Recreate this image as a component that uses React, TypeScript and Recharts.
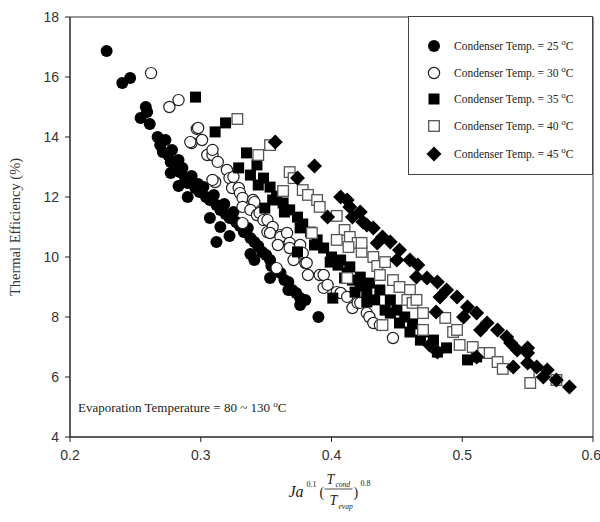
import React from 'react';
import { ScatterChart, Scatter, XAxis, YAxis, ReferenceArea, Label, Legend } from 'recharts';

const xTicks = [0.2, 0.3, 0.4, 0.5, 0.6];
const yTicks = [4, 6, 8, 10, 12, 14, 16, 18];
const condenserTemps = [25, 30, 35, 40, 45];

// [x, efficiency %]
const temp25: [number, number][] = [
  [0.228, 16.87], [0.240, 15.8], [0.246, 15.97], [0.258, 15.0], [0.254, 14.63], [0.261, 14.43], [0.259, 14.83],
  [0.267, 14.0], [0.269, 13.73], [0.273, 13.9], [0.271, 13.5], [0.275, 13.4], [0.278, 13.57], [0.277, 13.17],
  [0.280, 13.07], [0.283, 13.23], [0.284, 12.83], [0.286, 12.97], [0.288, 12.63], [0.290, 12.47], [0.293, 12.7],
  [0.296, 12.3], [0.298, 12.43], [0.299, 12.17], [0.302, 12.33], [0.304, 12.0], [0.307, 11.9], [0.310, 12.07],
  [0.312, 11.73], [0.315, 11.57], [0.318, 11.77], [0.319, 11.43], [0.322, 11.3], [0.325, 11.5], [0.327, 11.17],
  [0.330, 11.03], [0.333, 10.83], [0.336, 10.97], [0.338, 10.63], [0.341, 10.5], [0.344, 10.37], [0.347, 10.17],
  [0.350, 10.07], [0.353, 9.9], [0.354, 9.7], [0.358, 9.57], [0.361, 9.47], [0.364, 9.23], [0.367, 9.17],
  [0.370, 8.9], [0.373, 8.8], [0.376, 8.63], [0.380, 8.57], [0.312, 10.5], [0.390, 8.0],
  [0.283, 12.37], [0.290, 12.0], [0.307, 11.3], [0.322, 10.7], [0.338, 10.1], [0.353, 9.3], [0.367, 8.9],
  [0.376, 8.4], [0.341, 9.9], [0.315, 11.0], [0.296, 12.3], [0.283, 12.9], [0.277, 12.8],
];

const temp30: [number, number][] = [
  [0.262, 16.13], [0.276, 15.0], [0.283, 15.23], [0.297, 14.27], [0.293, 13.8], [0.301, 13.9], [0.298, 14.3],
  [0.305, 13.4], [0.309, 13.4], [0.313, 13.17], [0.309, 13.57], [0.311, 12.5], [0.320, 12.9], [0.322, 12.63],
  [0.325, 12.67], [0.324, 12.3], [0.329, 12.3], [0.330, 12.13], [0.332, 11.97], [0.332, 11.67], [0.340, 11.9],
  [0.341, 11.83], [0.338, 11.57], [0.343, 11.4], [0.345, 11.47], [0.332, 11.13], [0.348, 11.23], [0.351, 11.23],
  [0.351, 10.83], [0.355, 11.0], [0.353, 10.8], [0.361, 10.73], [0.361, 10.67], [0.359, 10.4], [0.366, 10.8],
  [0.368, 10.47], [0.368, 10.3], [0.376, 10.4], [0.371, 9.9], [0.378, 10.13], [0.380, 9.8], [0.381, 9.8],
  [0.382, 9.4], [0.391, 9.4], [0.394, 8.97], [0.394, 9.4], [0.397, 9.07], [0.404, 8.83], [0.407, 8.8],
  [0.412, 8.67], [0.416, 8.3], [0.420, 8.47], [0.422, 8.47], [0.427, 8.13], [0.429, 8.0], [0.432, 7.8],
  [0.437, 7.73], [0.447, 7.3], [0.358, 9.63], [0.309, 12.57], [0.292, 13.83],
];

const temp35: [number, number][] = [
  [0.296, 15.33], [0.311, 14.17], [0.319, 14.47], [0.329, 12.97], [0.335, 13.47], [0.343, 13.07], [0.348, 12.63],
  [0.353, 12.33], [0.358, 12.03], [0.349, 11.63], [0.363, 11.8], [0.368, 11.57], [0.374, 11.33], [0.378, 11.1],
  [0.384, 10.83], [0.389, 10.57], [0.394, 10.3], [0.374, 10.17], [0.400, 10.0], [0.405, 9.73], [0.412, 9.47],
  [0.416, 9.23], [0.422, 9.03], [0.427, 8.8], [0.429, 9.13], [0.437, 8.9], [0.445, 8.57], [0.450, 8.23],
  [0.456, 8.0], [0.462, 7.77], [0.470, 7.5], [0.478, 7.23], [0.481, 6.83], [0.401, 8.63], [0.427, 8.5],
  [0.445, 8.13], [0.452, 7.8], [0.488, 6.97], [0.504, 6.57], [0.511, 6.67], [0.407, 9.9], [0.414, 9.67],
  [0.422, 9.33], [0.338, 12.73], [0.344, 12.4], [0.355, 11.9], [0.364, 11.5], [0.376, 10.97], [0.387, 10.4],
  [0.399, 9.83], [0.410, 9.3], [0.418, 8.83], [0.433, 8.57], [0.441, 8.23], [0.460, 7.5], [0.468, 7.23],
];

const temp40: [number, number][] = [
  [0.328, 14.6], [0.344, 13.4], [0.353, 13.73], [0.368, 12.83], [0.371, 12.63], [0.363, 12.2], [0.378, 12.23],
  [0.382, 12.07], [0.389, 11.9], [0.391, 11.67], [0.404, 11.37], [0.410, 10.9], [0.385, 10.8], [0.414, 10.67],
  [0.420, 10.47], [0.423, 10.17], [0.432, 10.0], [0.435, 9.7], [0.412, 9.3], [0.404, 10.57], [0.413, 10.33],
  [0.423, 10.47], [0.441, 9.83], [0.437, 9.4], [0.447, 9.23], [0.452, 9.0], [0.460, 8.9], [0.458, 8.57],
  [0.462, 8.47], [0.465, 8.57], [0.470, 8.13], [0.439, 7.73], [0.470, 7.57], [0.487, 7.97], [0.493, 7.5],
  [0.496, 7.57], [0.498, 7.07], [0.508, 7.0], [0.516, 6.8], [0.521, 6.8], [0.527, 6.5], [0.531, 6.27],
  [0.552, 5.8], [0.572, 5.9], [0.559, 6.17],
];

const temp45: [number, number][] = [
  [0.357, 13.83], [0.387, 13.03], [0.374, 12.63], [0.397, 11.33], [0.407, 12.0], [0.414, 11.67], [0.422, 11.5],
  [0.424, 11.17], [0.432, 10.97], [0.439, 10.67], [0.445, 10.5], [0.452, 10.23], [0.460, 9.9], [0.466, 9.73],
  [0.473, 9.3], [0.481, 9.17], [0.488, 8.9], [0.496, 8.67], [0.504, 8.33], [0.511, 8.13], [0.519, 7.8],
  [0.527, 7.57], [0.534, 7.33], [0.542, 6.9], [0.550, 6.8], [0.557, 6.33], [0.565, 6.23], [0.572, 5.9],
  [0.582, 5.67], [0.416, 11.33], [0.435, 10.47], [0.450, 9.9], [0.465, 9.33], [0.483, 8.67], [0.501, 8.0],
  [0.514, 7.57], [0.537, 7.13], [0.550, 6.47], [0.562, 6.0], [0.480, 8.17], [0.481, 6.83], [0.511, 6.67],
  [0.539, 6.33], [0.550, 6.97], [0.412, 11.9], [0.427, 11.07], [0.475, 7.07],
];

const toPoints = (arr: [number, number][]) => arr.map(([x, y]) => ({ x, y }));

const SERIF = '"Liberation Serif", "Times New Roman", serif';
const SANS = '"Liberation Sans", Arial, sans-serif';

// marker shapes, drawn around the (cx, cy) the library computes
const FilledCircle = (p: any) => <circle cx={p.cx} cy={p.cy} r={6} fill="#000" />;
const OpenCircle = (p: any) => (
  <circle cx={p.cx} cy={p.cy} r={5.6} fill="#fff" stroke="#222" strokeWidth={1.2} />
);
const FilledSquare = (p: any) => <rect x={p.cx - 5.5} y={p.cy - 5.5} width={11} height={11} fill="#000" />;
const OpenSquare = (p: any) => (
  <rect x={p.cx - 5.3} y={p.cy - 5.3} width={10.6} height={10.6} fill="#fff" stroke="#555" strokeWidth={1.3} />
);
const Diamond = (p: any) => {
  const r = 7.5;
  return (
    <polygon
      points={`${p.cx},${p.cy - r} ${p.cx + r},${p.cy} ${p.cx},${p.cy + r} ${p.cx - r},${p.cy}`}
      fill="#000"
    />
  );
};

const shapes = [FilledCircle, OpenCircle, FilledSquare, OpenSquare, Diamond];

const LegendBox = () => (
  <div
    style={{
      position: 'relative',
      width: 183,
      height: 157,
      border: '1px solid #444',
      background: '#fff',
      fontFamily: SERIF,
      fontSize: 11.5,
      color: '#222',
    }}
  >
    {condenserTemps.map((t, i) => {
      const Shape = shapes[i];
      const top = [29, 56, 82, 109, 137][i];
      return (
        <div key={t} style={{ position: 'absolute', left: 0, top: top - 9, height: 18, display: 'flex', alignItems: 'center' }}>
          <svg width={18} height={18} style={{ marginLeft: 16 }}>
            <Shape cx={9} cy={9} />
          </svg>
          <span style={{ marginLeft: 11, whiteSpace: 'nowrap' }}>
            Condenser Temp. = {t}{' '}
            <span style={{ fontSize: 9, position: 'relative', top: -5 }}>o</span>C
          </span>
        </div>
      );
    })}
  </div>
);

const renderYLabel = (props: any) => {
  const vb = props.viewBox;
  const x = vb.x + 20;
  const y = vb.y + vb.height / 2;
  return (
    <text x={x} y={y} transform={`rotate(-90, ${x}, ${y})`} textAnchor="middle" fontFamily={SERIF} fontSize={14.5} fill="#333">
      Thermal Efficiency (%)
    </text>
  );
};

const renderXLabel = (props: any) => {
  const vb = props.viewBox;
  const cx = vb.x + vb.width / 2;
  const top = vb.y;
  return (
    <g fontFamily={SERIF} fill="#222">
      <text x={cx - 43} y={top + 60} fontSize={16} fontStyle="italic">Ja</text>
      <text x={cx - 25} y={top + 50} fontSize={8}>0.1</text>
      <text x={cx - 12} y={top + 60} fontSize={14}>(</text>
      <text x={cx - 5} y={top + 47} fontSize={14} fontStyle="italic">T</text>
      <text x={cx + 4} y={top + 50} fontSize={7.5} fontStyle="italic">cond</text>
      <line x1={cx - 7} x2={cx + 21} y1={top + 52} y2={top + 52} stroke="#222" strokeWidth={0.8} />
      <text x={cx - 2} y={top + 68} fontSize={14} fontStyle="italic">T</text>
      <text x={cx + 7} y={top + 72} fontSize={7.5} fontStyle="italic">evap</text>
      <text x={cx + 22} y={top + 60} fontSize={14}>)</text>
      <text x={cx + 29} y={top + 49} fontSize={8}>0.8</text>
    </g>
  );
};

const renderNote = (props: any) => {
  const vb = props.viewBox;
  return (
    <text x={vb.x + 8} y={vb.y + vb.height - 25} fontFamily={SERIF} fontSize={13} fill="#222">
      Evaporation Temperature = 80 ~ 130{' '}
      <tspan fontSize={9} dy={-5}>o</tspan>
      <tspan dy={5}>C</tspan>
    </text>
  );
};

export default function App() {
  const series = [temp25, temp30, temp35, temp40, temp45];
  return (
    <div style={{ position: 'absolute', left: 0, top: 0, width: 600, height: 522, background: '#fff' }}>
      <ScatterChart width={600} height={522} margin={{ top: 17, right: 7, bottom: 0, left: 0 }}>
        <XAxis
          type="number"
          dataKey="x"
          domain={[0.2, 0.6]}
          ticks={xTicks}
          allowDataOverflow
          height={85}
          tickFormatter={(v: number) => v.toFixed(1)}
          tick={{ fontFamily: SANS, fontSize: 14, fill: '#333' }}
          tickSize={5}
          tickMargin={8}
          stroke="#222"
        >
          <Label content={renderXLabel} />
        </XAxis>
        <YAxis
          type="number"
          dataKey="y"
          domain={[4, 18]}
          ticks={yTicks}
          allowDataOverflow
          width={70}
          tick={{ fontFamily: SANS, fontSize: 14, fill: '#333' }}
          tickSize={5}
          tickMargin={6}
          stroke="#222"
        >
          <Label content={renderYLabel} />
        </YAxis>
        <ReferenceArea x1={0.2} x2={0.6} y1={4} y2={18} fill="none" fillOpacity={0} stroke="#333" strokeWidth={1}>
          <Label content={renderNote} />
        </ReferenceArea>
        {series.map((s, i) => (
          <Scatter
            key={condenserTemps[i]}
            name={`Condenser Temp. = ${condenserTemps[i]} °C`}
            data={toPoints(s)}
            shape={shapes[i]}
            isAnimationActive={false}
          />
        ))}
        <Legend
          layout="horizontal"
          verticalAlign="middle"
          align="center"
          content={() => <LegendBox />}
          wrapperStyle={{ left: 408, top: 16, width: 185, height: 159 }}
        />
      </ScatterChart>
    </div>
  );
}
